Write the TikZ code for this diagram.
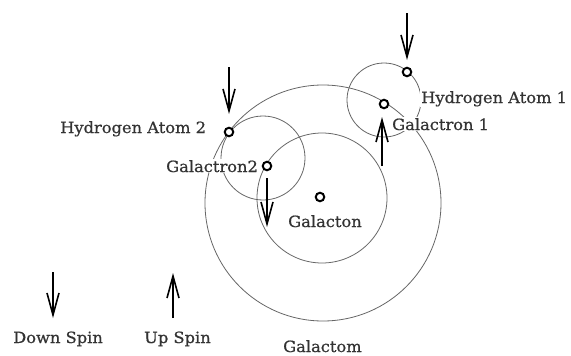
\documentclass[tikz,border=0pt]{standalone}
\usepackage{fontspec}
\newfontfamily\labfont[FakeStretch=1.05,FakeBold=0.6]{DejaVu Serif}
\usetikzlibrary{arrows.meta}
\begin{document}
\begin{tikzpicture}[x=1pt,y=-1pt,
  orbit/.style={draw=black!60, line width=0.8pt},
  particle/.style={circle, draw=black, line width=2pt, fill=white, minimum size=8.5pt, inner sep=0pt},
  lab/.style={font=\labfont\fontsize{15.5}{17}\selectfont, text=black!80, fill=white, inner sep=1pt, anchor=base west},
  spin/.style={line width=1.7pt, -{Straight Barb[length=22pt,width=12pt,line width=1.6pt]}}]
\useasboundingbox (0,0) rectangle (571,356);
% orbit centres
\coordinate (cBig) at (323,203);
\coordinate (cIn) at (322,198);
\coordinate (cH1) at (384,100);
\coordinate (cH2) at (263,158);
% orbits
\draw[orbit] (cBig) circle[radius=118pt];
\draw[orbit] (cIn) circle[radius=65pt];
\draw[orbit] (cH1) circle[radius=37pt];
\draw[orbit] (cH2) circle[radius=42pt];
% labels
\node[lab] (lH2) at (59,133) {Hydrogen Atom 2};
\node[lab] (lG2) at (165,172) {Galactron2};
\node[lab] (lH1) at (420,103) {Hydrogen Atom 1};
\node[lab] (lG1) at (391,130) {Galactron 1};
\node[lab] (lGn) at (287,227) {Galacton};
\node[lab] (lGm) at (282,352) {Galactom};
\node[lab] (lDown) at (12,343) {Down Spin};
\node[lab] (lUp) at (143,343) {Up Spin};
% particles
\node[particle] (galacton) at (320,197) {};
\node[particle] (galactron1) at (384,104) {};
\node[particle] (h1) at (407,72) {};
\node[particle] (galactron2) at (267,166) {};
\node[particle] (h2) at (229,132) {};
% spin arrows
\coordinate (a1s) at (407,13);  \coordinate (a1e) at (407,60);
\coordinate (a2s) at (229,67);  \coordinate (a2e) at (229,114);
\coordinate (a3s) at (267,178); \coordinate (a3e) at (267,227);
\coordinate (a4s) at (382,166); \coordinate (a4e) at (382,117);
\coordinate (a5s) at (53,272);  \coordinate (a5e) at (53,318);
\coordinate (a6s) at (173,318); \coordinate (a6e) at (173,273);
\draw[spin] (a1s) -- (a1e);
\draw[spin] (a2s) -- (a2e);
\draw[spin] (a3s) -- (a3e);
\draw[spin] (a4s) -- (a4e);
\draw[spin] (a5s) -- (a5e);
\draw[spin] (a6s) -- (a6e);
\end{tikzpicture}
\end{document}
